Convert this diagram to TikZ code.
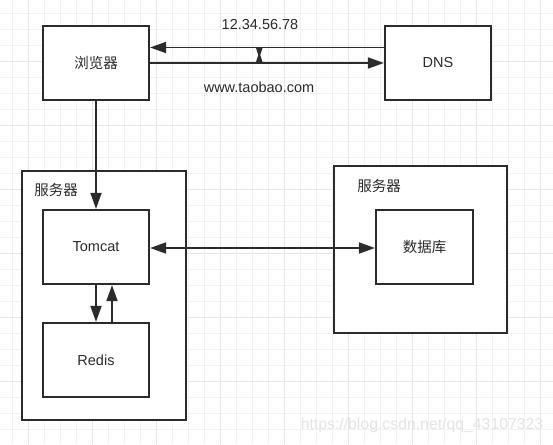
\documentclass[tikz,border=0pt]{standalone}
\usepackage{fontspec}
\setmainfont{Liberation Sans}
\newfontfamily\cjk{Noto Sans CJK SC}
\usetikzlibrary{arrows.meta}
\usetikzlibrary{positioning}
\definecolor{ink}{HTML}{2B2B2B}
\definecolor{gridminor}{HTML}{F2F2F2}
\definecolor{gridmajor}{HTML}{E6E6E6}
\definecolor{mark}{HTML}{E4E4E4}
\tikzset{box/.style = {draw = ink, line width = 2.2pt, fill = white, inner sep = 0, text = ink, font = \fontsize{14.5}{17}\selectfont}}
\tikzset{link/.style = {draw = ink, line width = 1.8pt, -{Triangle[length = 16pt, width = 11pt]}}}
\tikzset{lbl/.style = {text = ink, inner sep = 0, font = \fontsize{14.5}{17}\selectfont}}

\begin{document}
\begin{tikzpicture}[x = 1pt, y = -1pt]
            \useasboundingbox (0,0) rectangle (553,444);
            \fill [white] (0,0) rectangle (553,444);
            % grid
            \foreach \gx in {12,28,...,552} {\draw [gridminor, line width = 0.8pt] (\gx,0)--(\gx,444);}
            \foreach \gy in {13,29,...,444} {\draw [gridminor, line width = 0.8pt] (0,\gy)--(553,\gy);}
            \foreach \gx in {28,92,...,552} {\draw [gridmajor, line width = 1pt] (\gx,0)--(\gx,444);}
            \foreach \gy in {61,125,...,444} {\draw [gridmajor, line width = 1pt] (0,\gy)--(553,\gy);}
            
            \node [box, minimum width = 164, minimum height = 249] (server) at (104,295.5) {};
            \node [box, minimum width = 173, minimum height = 167] (dbserver) at (420.5,249.5) {};
            \node [lbl] (serverlbl) at (56,190) {\cjk 服务器};
            \node [lbl] (dbserverlbl) at (379,186) {\cjk 服务器};
            
            \node [box, minimum width = 106, minimum height = 74] (browser) at (96,63) {\cjk 浏览器};
            \node [box, minimum width = 106, minimum height = 74] (dns) at (438,63) {DNS};
            \node [box, minimum width = 106, minimum height = 74] (tomcat) at (96,247) {Tomcat};
            \node [box, minimum width = 106, minimum height = 74] (redis) at (96,360) {Redis};
            \node [box, minimum width = 97, minimum height = 74] (db) at (424.5,247) {\cjk 数据库};
            
            \draw [link] (browser.east)--(dns.west);
            \draw [link] ([yshift = 15.5pt]dns.west)--([yshift = 15.5pt]browser.east);
            \fill [ink] (256,48)--(262.5,48)--(260.2,55)--(262.5,62)--(256,62)--(258.3,55)--cycle;
            \node [lbl] (ip) at (260,25) {12.34.56.78};
            \node [lbl] (url) at (259,87) {www.taobao.com};
            
            \draw [link] (browser.south)--(tomcat.north);
            \draw [link] (tomcat.south)--(redis.north);
            \draw [link] ([xshift = 16pt]redis.north)--([xshift = 16pt]tomcat.south);
            \draw [link, {Triangle[length = 16pt, width = 11pt]}-{Triangle[length = 16pt, width = 11pt]}] ([yshift = -1pt]tomcat.east)--([yshift = -1pt]db.west);
            
            \node [text = mark, font = \fontsize{15.8}{19}\selectfont] (watermark) at (422,425) {https://blog.csdn.net/qq\_43107323};
        \end{tikzpicture}
\end{document}
